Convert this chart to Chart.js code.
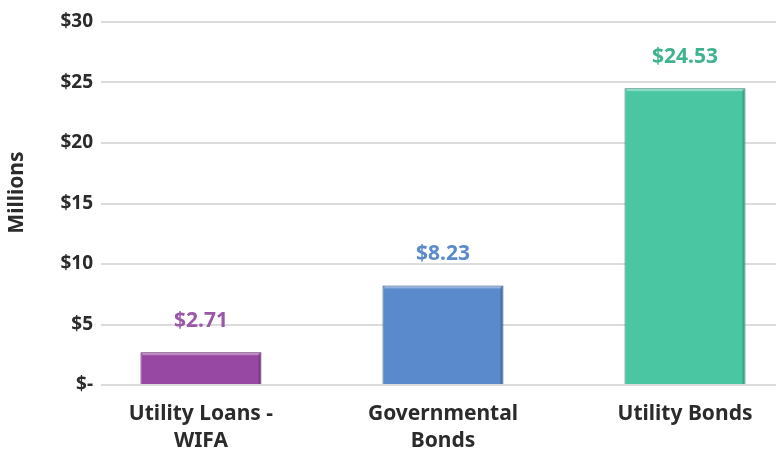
<!DOCTYPE html>
<html>
<head>
<meta charset="utf-8">
<script src="https://cdn.jsdelivr.net/npm/chart.js@4/dist/chart.umd.min.js"></script>
<style>
  html, body { margin: 0; padding: 0; background: #fff; overflow: hidden; }
  #wrap { width: 776px; height: 456px; }
</style>
</head>
<body>
<div id="wrap"><canvas id="chart" width="776" height="456"></canvas></div>
<script>
// data
const categories = [["Utility Loans -", "WIFA"], ["Governmental", "Bonds"], ["Utility Bonds"]];
const values = [2.71, 8.23, 24.53];
const valueLabels = ["$2.71", "$8.23", "$24.53"];
const yTicks = [0, 5, 10, 15, 20, 25, 30];

// colours per bar: [top, bottom, edge, label]
const COLORS = [
  ["#9748a2", "#7f2f8a", "#5a1c62", "#9b57a8"],
  ["#5a89cc", "#4b77bc", "#2f5084", "#5b8bcb"],
  ["#4ac6a2", "#3ab691", "#25806a", "#3fb390"],
];
const FONT = "'Noto Sans', sans-serif";

const fillFor = (ctx) => {
  const c = COLORS[ctx.dataIndex];
  const area = ctx.chart.chartArea;
  if (!area) return c[0];
  const el = ctx.chart.getDatasetMeta(0).data[ctx.dataIndex];
  if (!el || !Number.isFinite(el.y)) return c[0];
  const g = ctx.chart.ctx.createLinearGradient(0, el.y, 0, el.base);
  g.addColorStop(0, c[0]);
  g.addColorStop(1, c[1]);
  return g;
};

// value labels above bars + small bevel highlight
const barDecor = {
  id: "barDecor",
  afterDatasetsDraw(chart) {
    const ctx = chart.ctx;
    const meta = chart.getDatasetMeta(0);
    meta.data.forEach((bar, i) => {
      const half = bar.width / 2;
      ctx.save();
      ctx.fillStyle = "rgba(255,255,255,0.35)";
      ctx.fillRect(bar.x - half + 2, bar.y + 1, bar.width - 4, 2);
      ctx.fillStyle = "rgba(0,0,0,0.18)";
      ctx.fillRect(bar.x + half - 3, bar.y + 1, 2, bar.base - bar.y - 1);
      ctx.fillStyle = COLORS[i][3];
      ctx.font = `bold 21px ${FONT}`;
      ctx.textAlign = "center";
      ctx.textBaseline = "middle";
      ctx.fillText(valueLabels[i], bar.x, bar.y - 31);
      ctx.restore();
    });
  },
};

new Chart(document.getElementById("chart"), {
  type: "bar",
  data: {
    datasets: [{
      data: values.map((v, i) => ({ x: i, y: v })),
      backgroundColor: fillFor,
      borderColor: (ctx) => COLORS[ctx.dataIndex][2],
      borderWidth: 1,
      barPercentage: 0.5,
      categoryPercentage: 1,
    }],
  },
  options: {
    responsive: false,
    animation: false,
    layout: { padding: { top: 22, right: 0, left: 0, bottom: 0 } },
    plugins: { legend: { display: false }, tooltip: { enabled: false } },
    scales: {
      x: {
        type: "linear",
        offset: false,
        min: -0.413,
        max: 2.376,
        afterBuildTicks: (axis) => { axis.ticks = categories.map((_, i) => ({ value: i })); },
        afterFit: (axis) => { axis.height = 71; },
        grid: { display: false, offset: false },
        border: { display: false },
        ticks: {
          autoSkip: false,
          maxRotation: 0,
          padding: 7,
          color: "#2b2b2b",
          font: { family: FONT, size: 21, weight: "bold", lineHeight: 1.3 },
          callback: (v) => categories[v] || "",
        },
      },
      y: {
        min: 0,
        max: 30,
        afterBuildTicks: (axis) => { axis.ticks = yTicks.map((v) => ({ value: v })); },
        afterFit: (axis) => { axis.width = 101; },
        grid: { color: "#dcdcdc", lineWidth: 2, drawTicks: false },
        border: { display: false },
        ticks: {
          padding: 8,
          color: "#2b2b2b",
          font: { family: FONT, size: 19, weight: "bold" },
          callback: (v) => (v === 0 ? "$-" : "$" + v),
        },
        title: {
          display: true,
          text: "    Millions",
          color: "#2b2b2b",
          font: { family: FONT, size: 21, weight: "bold" },
          padding: { top: 4, bottom: 0 },
        },
      },
    },
  },
  plugins: [barDecor],
});
</script>
</body>
</html>
